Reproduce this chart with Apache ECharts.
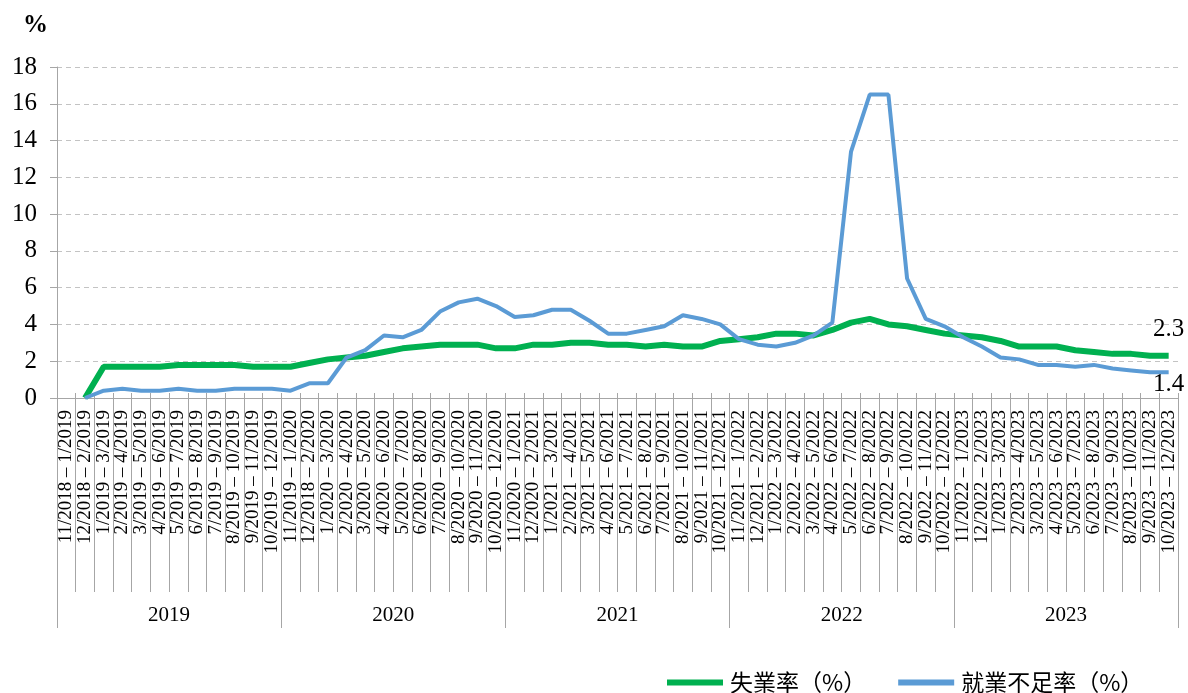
<!DOCTYPE html>
<html>
<head>
<meta charset="utf-8">
<script src="https://cdn.jsdelivr.net/npm/echarts@6/dist/echarts.min.js"></script>
<style>
html,body{margin:0;padding:0;background:#fff;}
#chart{width:1188px;height:693px;}
</style>
</head>
<body>
<div id="chart"></div>
<script>
// ---- data ----
const categories = [
  "11/2018 – 1/2019","12/2018 – 2/2019","1/2019 – 3/2019","2/2019 – 4/2019","3/2019 – 5/2019","4/2019 – 6/2019",
  "5/2019 – 7/2019","6/2019 – 8/2019","7/2019 – 9/2019","8/2019 – 10/2019","9/2019 – 11/2019","10/2019 – 12/2019",
  "11/2019 – 1/2020","12/2018 – 2/2020","1/2020 – 3/2020","2/2020 – 4/2020","3/2020 – 5/2020","4/2020 – 6/2020",
  "5/2020 – 7/2020","6/2020 – 8/2020","7/2020 – 9/2020","8/2020 – 10/2020","9/2020 – 11/2020","10/2020 – 12/2020",
  "11/2020 – 1/2021","12/2020 – 2/2021","1/2021 – 3/2021","2/2021 – 4/2021","3/2021 – 5/2021","4/2021 – 6/2021",
  "5/2021 – 7/2021","6/2021 – 8/2021","7/2021 – 9/2021","8/2021 – 10/2021","9/2021 – 11/2021","10/2021 – 12/2021",
  "11/2021 – 1/2022","12/2021 – 2/2022","1/2022 – 3/2022","2/2022 – 4/2022","3/2022 – 5/2022","4/2022 – 6/2022",
  "5/2022 – 7/2022","6/2022 – 8/2022","7/2022 – 9/2022","8/2022 – 10/2022","9/2022 – 11/2022","10/2022 – 12/2022",
  "11/2022 – 1/2023","12/2022 – 2/2023","1/2023 – 3/2023","2/2023 – 4/2023","3/2023 – 5/2023","4/2023 – 6/2023",
  "5/2023 – 7/2023","6/2023 – 8/2023","7/2023 – 9/2023","8/2023 – 10/2023","9/2023 – 11/2023","10/2023 – 12/2023"
];
const years = ["2019","2020","2021","2022","2023"];
const unemployment = [
  null,0,1.7,1.7,1.7,1.7,1.8,1.8,1.8,1.8,1.7,1.7,
  1.7,1.9,2.1,2.2,2.3,2.5,2.7,2.8,2.9,2.9,2.9,2.7,
  2.7,2.9,2.9,3.0,3.0,2.9,2.9,2.8,2.9,2.8,2.8,3.1,
  3.2,3.3,3.5,3.5,3.4,3.7,4.1,4.3,4.0,3.9,3.7,3.5,
  3.4,3.3,3.1,2.8,2.8,2.8,2.6,2.5,2.4,2.4,2.3,2.3
];
const underemployment = [
  null,0,0.4,0.5,0.4,0.4,0.5,0.4,0.4,0.5,0.5,0.5,
  0.4,0.8,0.8,2.2,2.6,3.4,3.3,3.7,4.7,5.2,5.4,5.0,
  4.4,4.5,4.8,4.8,4.2,3.5,3.5,3.7,3.9,4.5,4.3,4.0,
  3.2,2.9,2.8,3.0,3.4,4.1,13.4,16.5,16.5,6.5,4.3,3.9,
  3.3,2.8,2.2,2.1,1.8,1.8,1.7,1.8,1.6,1.5,1.4,1.4
];
const seriesNames = ["失業率（%）","就業不足率（%）"];
const yTicks = {min:0, max:18, interval:2};

// ---- chart ----
const chart = echarts.init(document.getElementById('chart'), null, {renderer:'canvas'});
const axisGray = '#a6a6a6';
const serif = '"Liberation Serif", "DejaVu Serif", serif';
const lastIdx = categories.length - 1;

chart.setOption({
  animation: false,
  backgroundColor: '#ffffff',
  graphic: [{
    type: 'text', left: 23, top: 13,
    style: {text: '%', font: 'bold 25px ' + serif, fill: '#000'}
  }],
  legend: {
    left: 662, top: 666,
    itemWidth: 56, itemHeight: 6, itemGap: 32,
    icon: 'rect',
    textStyle: {fontFamily: '"Noto Sans CJK TC"', fontSize: 23, color: '#000', padding: [0,0,0,2]},
    data: seriesNames
  },
  grid: {left: 57, right: 10, top: 67, bottom: 295, containLabel: false},
  xAxis: [
    {
      type: 'category', data: categories, boundaryGap: true, position: 'bottom',
      axisLine: {show: true, lineStyle: {color: axisGray, width: 1}},
      axisTick: {show: true, interval: 0, length: 194, lineStyle: {color: axisGray}},
      axisLabel: {interval: 0, rotate: 90, margin: 12, fontFamily: serif, fontSize: 19, color: '#000'},
      splitLine: {show: false}
    },
    {
      type: 'category', data: years, boundaryGap: true, position: 'bottom',
      axisLine: {show: false},
      axisTick: {show: true, interval: 0, length: 230, lineStyle: {color: axisGray}},
      axisLabel: {interval: 0, margin: 207, fontFamily: serif, fontSize: 21, color: '#000'},
      splitLine: {show: false}
    },
    {
      type: 'category', data: categories, boundaryGap: true, position: 'bottom',
      axisLine: {show: false},
      axisTick: {show: true, inside: true, interval: 0, length: 5, lineStyle: {color: axisGray}},
      axisLabel: {show: false},
      splitLine: {show: false}
    }
  ],
  yAxis: {
    type: 'value', min: yTicks.min, max: yTicks.max, interval: yTicks.interval,
    axisLine: {show: true, lineStyle: {color: axisGray}},
    axisTick: {show: true, length: 7, lineStyle: {color: axisGray}},
    axisLabel: {margin: 20, fontFamily: serif, fontSize: 25, color: '#000'},
    splitLine: {show: true, lineStyle: {color: '#c3c3c3', type: [5, 4], width: 1}}
  },
  series: [
    {
      name: seriesNames[0], type: 'line', data: unemployment, xAxisIndex: 0,
      showSymbol: false, symbol: 'none', smooth: false,
      lineStyle: {color: '#00b050', width: 6},
      itemStyle: {color: '#00b050'},
      markPoint: {
        symbol: 'circle', symbolSize: 0,
        data: [{coord: [lastIdx, unemployment[lastIdx]], value: unemployment[lastIdx]}],
        label: {show: true, position: 'top', distance: 14, formatter: p => p.value.toFixed(1),
                fontFamily: serif, fontSize: 25, color: '#000'}
      },
      z: 2
    },
    {
      name: seriesNames[1], type: 'line', data: underemployment, xAxisIndex: 0,
      showSymbol: false, symbol: 'none', smooth: false,
      lineStyle: {color: '#5b9bd5', width: 4},
      itemStyle: {color: '#5b9bd5'},
      markPoint: {
        symbol: 'circle', symbolSize: 0,
        data: [{coord: [lastIdx, underemployment[lastIdx]], value: underemployment[lastIdx]}],
        label: {show: true, position: 'bottom', distance: 0, formatter: p => p.value.toFixed(1),
                fontFamily: serif, fontSize: 25, color: '#000'}
      },
      z: 3
    }
  ]
});
</script>
</body>
</html>
